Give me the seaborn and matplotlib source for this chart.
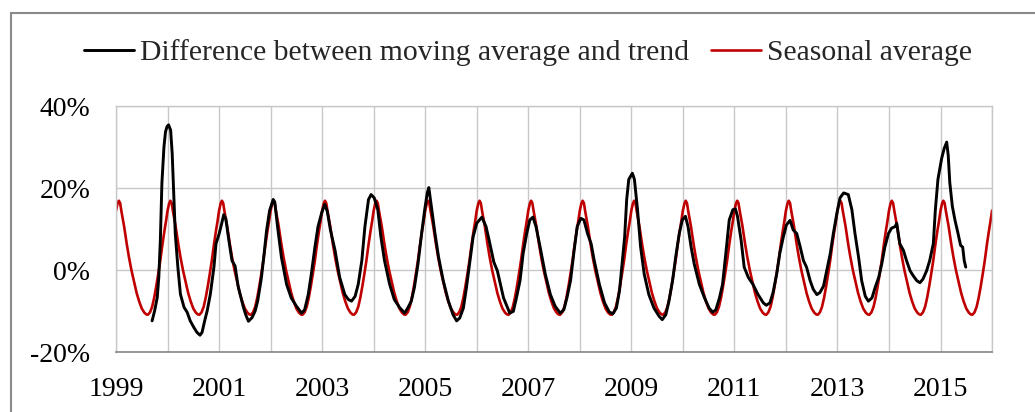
import numpy as np
import pandas as pd
import matplotlib
matplotlib.use("Agg")
import matplotlib.pyplot as plt
import seaborn as sns
from matplotlib.ticker import FixedLocator, MultipleLocator, FuncFormatter
from matplotlib.patches import Rectangle

# Difference between moving average and trend (decimal year, %)
diff_year = [
    1999.70, 1999.75, 1999.80, 1999.83, 1999.86, 1999.89, 1999.93, 1999.96, 1999.99,
    2000.02, 2000.06, 2000.09, 2000.12, 2000.15, 2000.20, 2000.25, 2000.32, 2000.38,
    2000.44, 2000.51, 2000.57, 2000.63, 2000.67, 2000.72, 2000.77, 2000.83, 2000.90,
    2000.94, 2001.00, 2001.05, 2001.09, 2001.13, 2001.19, 2001.25, 2001.31, 2001.37,
    2001.42, 2001.47, 2001.52, 2001.57, 2001.64, 2001.70, 2001.75, 2001.82, 2001.87,
    2001.92, 2001.98, 2002.05, 2002.08, 2002.14, 2002.21, 2002.31, 2002.40, 2002.50,
    2002.60, 2002.66, 2002.73, 2002.79, 2002.86, 2002.92, 2002.99, 2003.05, 2003.10,
    2003.16, 2003.25, 2003.34, 2003.44, 2003.51, 2003.57, 2003.64, 2003.70, 2003.77,
    2003.83, 2003.90, 2003.95, 2004.01, 2004.08, 2004.14, 2004.21, 2004.31, 2004.40,
    2004.50, 2004.60, 2004.66, 2004.73, 2004.79, 2004.86, 2004.93, 2004.99, 2005.04,
    2005.07, 2005.12, 2005.19, 2005.26, 2005.35, 2005.45, 2005.54, 2005.61, 2005.67,
    2005.74, 2005.80, 2005.87, 2005.93, 2006.00, 2006.10, 2006.18, 2006.24, 2006.33,
    2006.40, 2006.52, 2006.64, 2006.71, 2006.77, 2006.84, 2006.90, 2006.97, 2007.03,
    2007.09, 2007.15, 2007.23, 2007.33, 2007.43, 2007.52, 2007.62, 2007.69, 2007.75,
    2007.82, 2007.89, 2007.95, 2008.02, 2008.08, 2008.15, 2008.22, 2008.28, 2008.38,
    2008.48, 2008.57, 2008.64, 2008.71, 2008.77, 2008.82, 2008.87, 2008.91, 2008.95,
    2009.02, 2009.06, 2009.12, 2009.18, 2009.25, 2009.34, 2009.44, 2009.54, 2009.60,
    2009.67, 2009.73, 2009.80, 2009.86, 2009.93, 2009.99, 2010.05, 2010.10, 2010.16,
    2010.22, 2010.32, 2010.42, 2010.51, 2010.58, 2010.64, 2010.71, 2010.77, 2010.84,
    2010.90, 2010.97, 2011.02, 2011.06, 2011.13, 2011.19, 2011.27, 2011.36, 2011.46,
    2011.56, 2011.62, 2011.69, 2011.75, 2011.82, 2011.88, 2011.95, 2012.01, 2012.08,
    2012.14, 2012.21, 2012.27, 2012.34, 2012.40, 2012.47, 2012.53, 2012.60, 2012.66,
    2012.73, 2012.79, 2012.86, 2012.92, 2012.99, 2013.05, 2013.12, 2013.21, 2013.28,
    2013.34, 2013.41, 2013.47, 2013.54, 2013.60, 2013.67, 2013.73, 2013.80, 2013.86,
    2013.92, 2013.99, 2014.05, 2014.12, 2014.15, 2014.21, 2014.28, 2014.34, 2014.41,
    2014.47, 2014.54, 2014.60, 2014.66, 2014.73, 2014.79, 2014.86, 2014.90, 2014.95,
    2015.02, 2015.07, 2015.12, 2015.15, 2015.18, 2015.23, 2015.28, 2015.34, 2015.39,
    2015.43, 2015.46, 2015.49,
]
diff_value = [
    -12.4, -9.9, -6.7, -1.8, 7.2, 21.1, 30.0, 33.7, 35.0,
    35.4, 34.1, 28.4, 18.6, 8.8, 0.7, -5.9, -9.1, -10.3,
    -12.4, -14.0, -15.2, -15.9, -15.2, -12.4, -9.9, -5.9, 0.7,
    6.4, 8.8, 11.3, 13.5, 12.5, 7.2, 2.3, 1.0, -4.0,
    -6.5, -9.0, -11.0, -12.5, -11.6, -10.0, -7.5, -2.0, 3.5,
    9.5, 14.5, 17.2, 16.6, 10.0, 3.1, -3.5, -6.8, -8.8,
    -10.5, -9.7, -6.0, -1.0, 5.6, 10.6, 13.9, 16.0, 14.3,
    9.8, 4.8, -1.8, -6.0, -7.2, -7.6, -6.4, -3.5, 2.3,
    10.6, 17.2, 18.4, 17.6, 14.7, 8.1, 2.3, -3.5, -7.2,
    -9.1, -10.5, -9.3, -7.6, -4.3, 1.5, 8.9, 14.7, 18.8,
    20.1, 15.5, 8.9, 3.1, -2.6, -7.6, -10.9, -12.4, -11.7,
    -9.3, -4.3, 2.3, 8.1, 11.4, 12.9, 10.6, 7.3, 2.0,
    -0.2, -6.8, -10.5, -10.1, -6.8, -2.6, 4.0, 8.9, 12.2,
    12.9, 10.6, 5.6, -1.0, -6.0, -8.8, -10.5, -9.7, -6.8,
    -2.6, 4.8, 10.6, 12.6, 12.2, 8.9, 6.4, 2.3, -3.5,
    -8.0, -10.2, -10.7, -9.3, -5.1, 1.5, 8.0, 17.2, 22.1,
    23.6, 22.1, 14.7, 5.6, -1.0, -6.0, -9.3, -11.3, -12.1,
    -10.9, -7.6, -2.6, 3.1, 8.9, 12.2, 13.1, 10.6, 5.6,
    1.5, -3.5, -6.8, -9.3, -10.3, -9.7, -6.8, -3.5, 4.8,
    12.2, 14.7, 14.9, 13.1, 7.3, 0.7, -1.8, -3.5, -6.0,
    -8.0, -8.6, -8.0, -5.5, -1.0, 4.0, 8.1, 11.0, 12.1,
    9.8, 8.9, 6.0, 2.3, 0.7, -2.6, -4.7, -6.0, -5.5,
    -3.9, -0.2, 4.0, 8.9, 13.9, 17.6, 18.8, 18.4, 14.7,
    8.9, 3.1, -2.6, -6.4, -7.6, -6.8, -4.3, -1.8, 1.5,
    5.6, 8.9, 10.2, 10.6, 11.4, 6.4, 4.8, 2.3, -0.2,
    -1.4, -2.6, -3.1, -2.2, -0.2, 2.3, 6.4, 14.7, 22.1,
    27.1, 29.6, 31.2, 27.9, 21.3, 15.5, 12.2, 8.9, 6.0,
    5.6, 2.3, 0.7,
]

# Seasonal average: one yearly profile (fraction of year, %), repeated each year
season_phase = [0.000, 0.030, 0.055, 0.080, 0.105, 0.130, 0.155, 0.180, 0.210,
                0.250, 0.300, 0.350, 0.400, 0.450, 0.500, 0.550, 0.590, 0.620,
                0.660, 0.700, 0.740, 0.780, 0.820, 0.860, 0.900, 0.940, 0.970]
season_value = [14.5, 16.2, 16.9, 16.3, 14.3, 12.6, 10.8, 8.7, 6.2,
                3.2, -0.1, -2.9, -5.6, -7.7, -9.4, -10.4, -10.85, -10.9,
                -10.3, -9.0, -6.8, -4.0, -0.9, 2.4, 6.2, 9.6, 11.9]
season_years = list(range(1999, 2016))

year_ticks = list(range(1999, 2016, 2))
pct_ticks = [-20, 0, 20, 40]

labels = ["Difference between moving average and trend", "Seasonal average"]

# build frames
diff_df = pd.DataFrame({"year": diff_year, "value": diff_value})
sx = (np.array(season_years)[:, None] + np.array(season_phase)[None, :]).ravel()
sv = np.tile(season_value, len(season_years))
sx = np.append(sx, season_years[-1] + 1 + season_phase[0])
sv = np.append(sv, season_value[0])
season_df = pd.DataFrame({"year": sx, "value": sv})

sns.set_style("white")
plt.rcParams["font.family"] = ["Liberation Serif", "DejaVu Serif"]

fig = plt.figure(figsize=(10.35, 4.12), dpi=100)
ax = fig.add_axes([0.1121, 0.1456, 0.8464, 0.5971])

sns.lineplot(data=season_df, x="year", y="value", ax=ax, color="#C00000",
             lw=1.9, estimator=None, sort=False, label=labels[1])
sns.lineplot(data=diff_df, x="year", y="value", ax=ax, color="black",
             lw=2.1, estimator=None, sort=False, label=labels[0])

ax.set_xlim(1999, 2016)
ax.set_ylim(-20, 40)
ax.xaxis.set_major_locator(FixedLocator(year_ticks))
ax.xaxis.set_minor_locator(MultipleLocator(1))
ax.yaxis.set_major_locator(FixedLocator(pct_ticks))
ax.yaxis.set_major_formatter(FuncFormatter(lambda v, _: f"{int(v)}%"))
ax.set_xlabel("")
ax.set_ylabel("")

grid_c = "#c8c8c8"
ax.grid(True, axis="x", which="both", color=grid_c, lw=1.0)
ax.grid(True, axis="y", which="major", color=grid_c, lw=1.0)
ax.set_axisbelow(True)

for side in ("left", "top", "right"):
    ax.spines[side].set_color(grid_c)
    ax.spines[side].set_linewidth(1.0)
ax.spines["bottom"].set_color("#868686")
ax.spines["bottom"].set_linewidth(1.2)

ax.tick_params(axis="x", which="major", length=6.5, width=1.0, color="#868686",
               direction="out", pad=11.5, labelsize=20, labelcolor="black")
ax.tick_params(axis="x", which="minor", length=0)
ax.tick_params(axis="y", which="major", length=0, pad=18.5, labelsize=20,
               labelcolor="black")

handles, _ = ax.get_legend_handles_labels()
ax.get_legend().remove()
fig.legend([handles[1], handles[0]], labels, loc="center",
           bbox_to_anchor=(0.51, 0.872), ncol=2, frameon=False, fontsize=21.3,
           handlelength=1.7, handletextpad=0.2, columnspacing=0.75,
           borderaxespad=0, borderpad=0)

# outer chart frame
fig.patches.append(Rectangle((10.5 / 1035, -0.5), 2.0, 0.5 + 1 - 13 / 412,
                             transform=fig.transFigure, fill=False,
                             ec="#8a8a8a", lw=1.5))

fig.savefig("out.png", dpi=100)
